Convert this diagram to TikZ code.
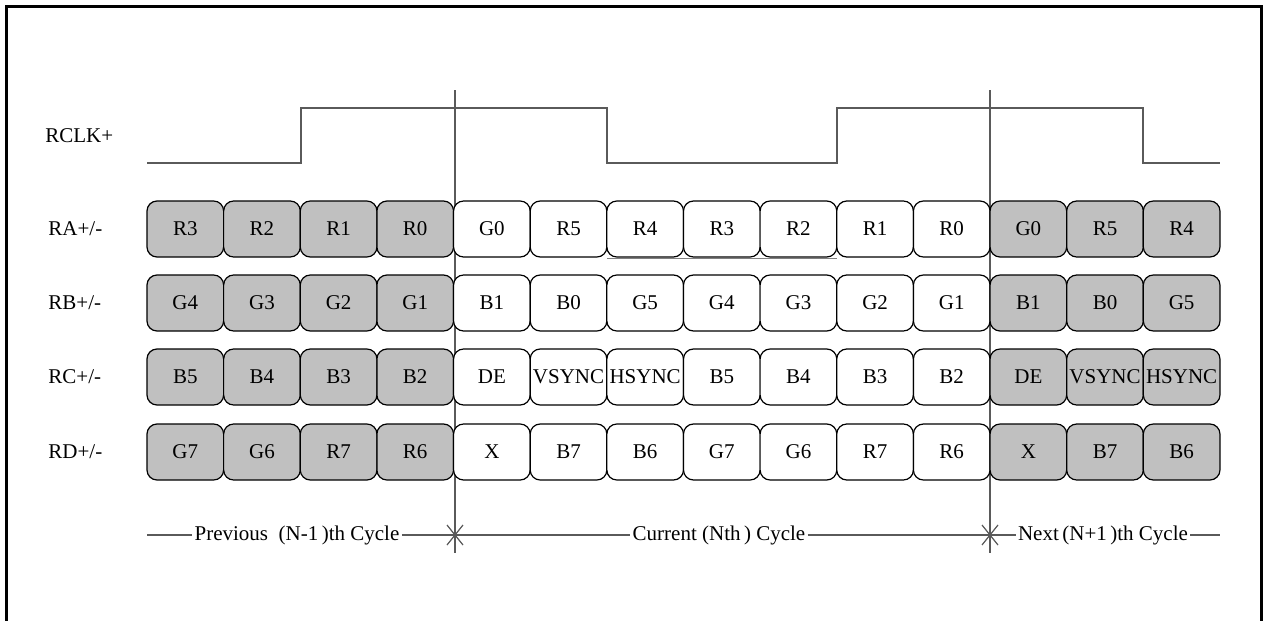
\documentclass[tikz,border=0pt]{standalone}
\usepackage{fontspec}
\setmainfont{Liberation Serif}
\usepackage{tikz}
\definecolor{slotgray}{RGB}{192,192,192}
\definecolor{wiregray}{RGB}{90,90,90}

\begin{document}
\begin{tikzpicture}
  [x=0.5pt,y=-0.5pt,
   every node/.style={font=\fontsize{10.5}{12}\selectfont},
   slot/.style={rectangle,draw=black,fill=white,line width=0.6pt,rounded corners=5pt,
                inner sep=0,minimum width=38.32pt,minimum height=28pt},
   oldslot/.style={slot,fill=slotgray},
   rowlabel/.style={anchor=west,inner sep=0},
   clock/.style={draw=wiregray,line width=0.6pt},
   divider/.style={draw=wiregray,line width=0.6pt},
   cyclelabel/.style={inner sep=1pt},
   frame/.style={draw=black,line width=1.5pt}]
  \useasboundingbox (0,0) rectangle (1269,621);
  \draw[frame] (6,621) -- (6,6) -- (1261,6) -- (1261,621);
%  \draw[help lines] (0,0) grid (1269,621);
  \node[rowlabel] (rclk) at (45,136) {RCLK+};
  \node[rowlabel] (ra) at (48,229) {RA+/-};
  \node[rowlabel] (rb) at (48,303) {RB+/-};
  \node[rowlabel] (rc) at (48,377) {RC+/-};
  \node[rowlabel] (rd) at (48,452) {RD+/-};
  \draw[clock] (147,163) -- (301,163) -- (301,108) -- (607,108) -- (607,163)
               -- (837,163) -- (837,108) -- (1143,108) -- (1143,163) -- (1220,163);
  \draw[divider] (455,90) -- (455,553);
  \draw[divider] (990,90) -- (990,553);
  \draw[draw=gray,line width=0.5pt] (607,258) -- (837,258);
  \foreach \row/\ypos/\bits in
     {ra/229/{R3,R2,R1,R0,G0,R5,R4,R3,R2,R1,R0,G0,R5,R4},
      rb/303/{G4,G3,G2,G1,B1,B0,G5,G4,G3,G2,G1,B1,B0,G5},
      rc/377/{B5,B4,B3,B2,DE,VSYNC,HSYNC,B5,B4,B3,B2,DE,VSYNC,HSYNC},
      rd/452/{G7,G6,R7,R6,X,B7,B6,G7,G6,R7,R6,X,B7,B6}} {
    \foreach \t [count=\i] in \bits {
      \ifnum\i<5 \def\sty{oldslot}\else\ifnum\i>11 \def\sty{oldslot}\else\def\sty{slot}\fi\fi
      \node[\sty] (\row\i) at ({147+76.64*(\i-0.5)},\ypos) {\t};
    }
  }
  \coordinate (start) at (147,535);
  \coordinate (cut1) at (455,535);
  \coordinate (cut2) at (990,535);
  \coordinate (stop) at (1220,535);
  \node[cyclelabel] (prev) at (297,535) {Previous~~(N-1\,)th Cycle};
  \node[cyclelabel] (curr) at (719,535) {Current (Nth\,) Cycle};
  \node[cyclelabel] (next) at (1103,535) {Next\,(N+1\,)th Cycle};
  \draw[divider] (start) -- (prev) -- (cut1) -- (curr) -- (cut2) -- (next) -- (stop);
  \draw[divider] (cut1) +(-8,-10) -- +(8,10) +(-8,10) -- +(8,-10);
  \draw[divider] (cut2) +(-8,-10) -- +(8,10) +(-8,10) -- +(8,-10);
\end{tikzpicture}
\end{document}
